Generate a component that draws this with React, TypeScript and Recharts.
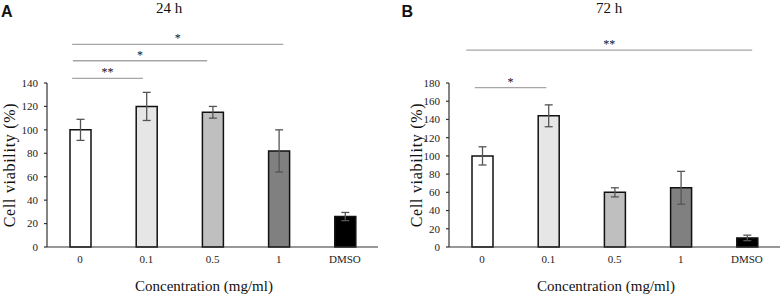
import React from 'react';
import {
  BarChart,
  Bar,
  XAxis,
  YAxis,
  ErrorBar,
  ReferenceLine,
  Cell
} from 'recharts';

const categories = ['0', '0.1', '0.5', '1', 'DMSO'];
const barFills = ['#ffffff', '#e6e6e6', '#bfbfbf', '#808080', '#000000'];

const viability24 = [100, 120, 115, 82, 26];
const sd24 = [9, 12, 5, 18, 3.5];
const viability72 = [100, 144, 60, 65, 10];
const sd72 = [10, 12, 5, 18, 3];

const yTicks24 = [0, 20, 40, 60, 80, 100, 120, 140];
const yTicks72 = [0, 20, 40, 60, 80, 100, 120, 140, 160, 180];
const xTicks = [0, 1, 2, 3, 4];

// significance brackets: category index span + height in % units
const sig24 = [
  { from: -0.12, to: 0.95, y: 144, mark: '**' },
  { from: -0.11, to: 1.92, y: 159, mark: '*' },
  { from: -0.12, to: 3.07, y: 173, mark: '*' }
];
const sig72 = [
  { from: -0.11, to: 0.97, y: 175, mark: '*' },
  { from: -0.24, to: 4.08, y: 216, mark: '**' }
];

const serif = '"Liberation Serif", "Times New Roman", serif';
const axisColor = '#333';

interface PanelProps {
  values: number[];
  sds: number[];
  yMax: number;
  yTicks: number[];
  sig: { from: number; to: number; y: number; mark: string }[];
  width: number;
  yAxisWidth: number;
  rightMargin: number;
  yLabelDist: number;
}

const Panel: React.FC<PanelProps> = ({ values, sds, yMax, yTicks, sig, width, yAxisWidth, rightMargin, yLabelDist }) => {
  const data = categories.map((c, i) => ({
    idx: i,
    name: c,
    value: values[i],
    sd: sds[i]
  }));

  const yLabel = (props: any) => {
    const vb = props.viewBox;
    const x = vb.x + vb.width - yLabelDist;
    const y = vb.y + vb.height / 2;
    return (
      <text
        x={x}
        y={y}
        transform={`rotate(-90 ${x} ${y})`}
        textAnchor="middle"
        dominantBaseline="central"
        style={{ fontFamily: serif, fontSize: 16, letterSpacing: 0.7, fill: '#111' }}
      >
        Cell viability (%)
      </text>
    );
  };

  const xLabel = (props: any) => {
    const vb = props.viewBox;
    return (
      <text
        x={vb.x + vb.width / 2 - 8.5}
        y={vb.y + 39}
        textAnchor="middle"
        dominantBaseline="central"
        style={{ fontFamily: serif, fontSize: 15, fill: '#111' }}
      >
        Concentration (mg/ml)
      </text>
    );
  };

  const starLabel = (mark: string) => (props: any) => {
    const vb = props.viewBox;
    return (
      <text
        x={vb.x + vb.width / 2}
        y={vb.y - 2}
        textAnchor="middle"
        style={{ fontFamily: serif, fontSize: 12, fill: '#111' }}
      >
        {mark}
      </text>
    );
  };

  return (
    <BarChart
      width={width}
      height={296}
      data={data}
      margin={{ top: 83, right: rightMargin, left: 0, bottom: 0 }}
      style={{ fontFamily: serif }}
    >
      <XAxis
        type="number"
        dataKey="idx"
        domain={[-0.5, 4.5]}
        ticks={xTicks}
        interval={0}
        tickFormatter={(v: number) => categories[v]}
        tickLine={false}
        tickSize={0}
        tickMargin={8}
        height={49}
        axisLine={{ stroke: axisColor, strokeWidth: 1.2 }}
        tick={{ fill: '#222', fontSize: 11, style: { fontFamily: serif } }}
        label={xLabel}
      />
      <YAxis
        domain={[0, yMax]}
        ticks={yTicks}
        interval={0}
        width={yAxisWidth}
        tickSize={3}
        tickMargin={6}
        axisLine={{ stroke: axisColor, strokeWidth: 1.2 }}
        tickLine={{ stroke: axisColor, strokeWidth: 1.2 }}
        tick={{ fill: '#222', fontSize: 11, style: { fontFamily: serif } }}
        label={yLabel}
      />
      {sig.map((s, i) => (
        <ReferenceLine
          key={`sig-${i}`}
          segment={[{ x: s.from, y: s.y }, { x: s.to, y: s.y }]}
          ifOverflow="visible"
          stroke="#a6a6a6"
          strokeWidth={1.3}
          label={starLabel(s.mark)}
        />
      ))}
      <Bar dataKey="value" barSize={21} stroke="#111" strokeWidth={1.5} isAnimationActive={false}>
        {data.map((d, i) => (
          <Cell key={`cell-${i}`} fill={barFills[i]} />
        ))}
        <ErrorBar dataKey="sd" width={4} stroke="#555" strokeWidth={1.3} direction="y" />
      </Bar>
    </BarChart>
  );
};

export default function App() {
  return (
    <div style={{ position: 'absolute', left: 0, top: 0, width: 782, height: 296, background: '#fff', fontFamily: serif }}>
      <div style={{ position: 'absolute', left: 0, top: 0 }}>
        <Panel
          values={viability24}
          sds={sd24}
          yMax={140}
          yTicks={yTicks24}
          sig={sig24}
          width={390}
          yAxisWidth={47}
          rightMargin={12}
          yLabelDist={37.5}
        />
      </div>
      <div style={{ position: 'absolute', left: 390, top: 0 }}>
        <Panel
          values={viability72}
          sds={sd72}
          yMax={180}
          yTicks={yTicks72}
          sig={sig72}
          width={392}
          yAxisWidth={59}
          rightMargin={2}
          yLabelDist={33}
        />
      </div>
      <svg width={782} height={296} style={{ position: 'absolute', left: 0, top: 0, pointerEvents: 'none' }}>
        <text x={1} y={17.3} style={{ fontFamily: '"Liberation Sans", Arial, sans-serif', fontWeight: 'bold', fontSize: 16, fill: '#111' }}>A</text>
        <text x={169} y={13} textAnchor="middle" style={{ fontFamily: serif, fontSize: 15, fill: '#111' }}>24 h</text>
        <text x={401.5} y={17.3} style={{ fontFamily: '"Liberation Sans", Arial, sans-serif', fontWeight: 'bold', fontSize: 16, fill: '#111' }}>B</text>
        <text x={609} y={13} textAnchor="middle" style={{ fontFamily: serif, fontSize: 15, fill: '#111' }}>72 h</text>
      </svg>
    </div>
  );
}
